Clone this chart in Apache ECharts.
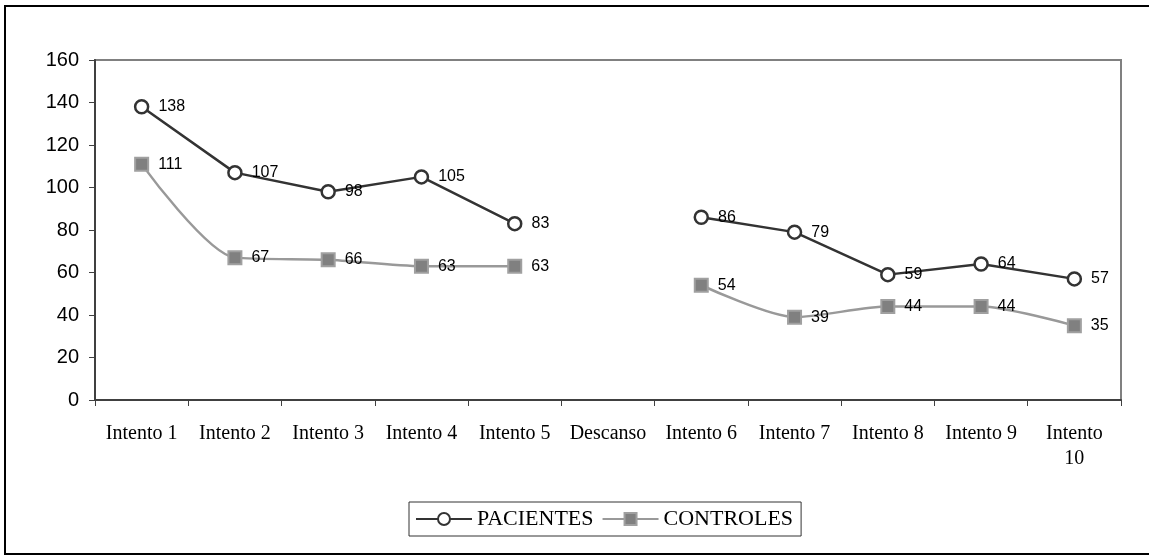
<!DOCTYPE html>
<html>
<head>
<meta charset="utf-8">
<script src="https://cdn.jsdelivr.net/npm/echarts@6/dist/echarts.min.js"></script>
<style>
  html, body { margin: 0; padding: 0; background: #fff; }
  #chart { width: 1149px; height: 558px; }
</style>
</head>
<body>
<div id="chart"></div>
<script>
// Categories along the x axis (the rest break sits between the two sessions)
const categories = ['Intento 1', 'Intento 2', 'Intento 3', 'Intento 4', 'Intento 5',
  'Descanso', 'Intento 6', 'Intento 7', 'Intento 8', 'Intento 9', 'Intento 10'];
// Values per group; null marks the rest break
const pacientes = [138, 107, 98, 105, 83, null, 86, 79, 59, 64, 57];
const controles = [111, 67, 66, 63, 63, null, 54, 39, 44, 44, 35];
const seriesNames = ['PACIENTES', 'CONTROLES'];

const chart = echarts.init(document.getElementById('chart'), null, { renderer: 'canvas' });

const labelStyle = {
  show: true,
  position: 'right',
  distance: 9,
  fontFamily: 'Liberation Sans, Arial, sans-serif',
  fontSize: 16,
  color: '#000'
};

chart.setOption({
  animation: false,
  backgroundColor: '#fff',
  graphic: [
    {
      type: 'rect',
      shape: { x: 5, y: 6, width: 1160, height: 548 },
      style: { fill: 'none', stroke: '#000', lineWidth: 2 },
      silent: true
    },
    {
      type: 'rect',
      shape: { x: 95, y: 60, width: 1026, height: 340 },
      style: { fill: 'none', stroke: '#808080', lineWidth: 2 },
      silent: true,
      z: -1
    }
  ],
  grid: { left: 95, right: 28, top: 60, bottom: 158, containLabel: false },
  legend: {
    data: seriesNames,
    left: 409,
    top: 502,
    orient: 'horizontal',
    itemWidth: 56,
    itemHeight: 15,
    itemGap: 8,
    padding: [6, 8, 6, 6],
    borderColor: '#333',
    borderWidth: 1,
    textStyle: { fontFamily: 'Liberation Serif, Times New Roman, serif', fontSize: 22, color: '#000' }
  },
  xAxis: {
    type: 'category',
    data: categories,
    boundaryGap: true,
    axisLine: { show: true, lineStyle: { color: '#404040', width: 2 } },
    axisTick: { show: true, length: 6, alignWithLabel: false, lineStyle: { color: '#404040', width: 1 } },
    axisLabel: {
      interval: 0,
      margin: 21,
      fontFamily: 'Liberation Serif, Times New Roman, serif',
      fontSize: 20,
      color: '#000',
      lineHeight: 25,
      formatter: v => v === 'Intento 10' ? 'Intento\n10' : v
    },
    splitLine: { show: false }
  },
  yAxis: {
    type: 'value',
    min: 0,
    max: 160,
    interval: 20,
    axisLine: { show: true, lineStyle: { color: '#404040', width: 2 } },
    axisTick: { show: true, length: 6, lineStyle: { color: '#404040', width: 1 } },
    axisLabel: {
      margin: 16,
      fontFamily: 'Liberation Sans, Arial, sans-serif',
      fontSize: 20,
      color: '#000'
    },
    splitLine: { show: false }
  },
  series: [
    {
      name: seriesNames[0],
      type: 'line',
      data: pacientes,
      connectNulls: false,
      smooth: false,
      symbol: 'circle',
      symbolSize: 13,
      showAllSymbol: true,
      lineStyle: { color: '#333', width: 2.5 },
      itemStyle: { color: '#fff', borderColor: '#333', borderWidth: 2.5 },
      label: labelStyle,
      z: 3
    },
    {
      name: seriesNames[1],
      type: 'line',
      data: controles,
      connectNulls: false,
      smooth: 0.25,
      symbol: 'rect',
      symbolSize: 13,
      showAllSymbol: true,
      lineStyle: { color: '#999', width: 2.5 },
      itemStyle: { color: '#808080', borderColor: '#a0a0a0', borderWidth: 2 },
      label: labelStyle,
      z: 2
    }
  ]
});
</script>
</body>
</html>
